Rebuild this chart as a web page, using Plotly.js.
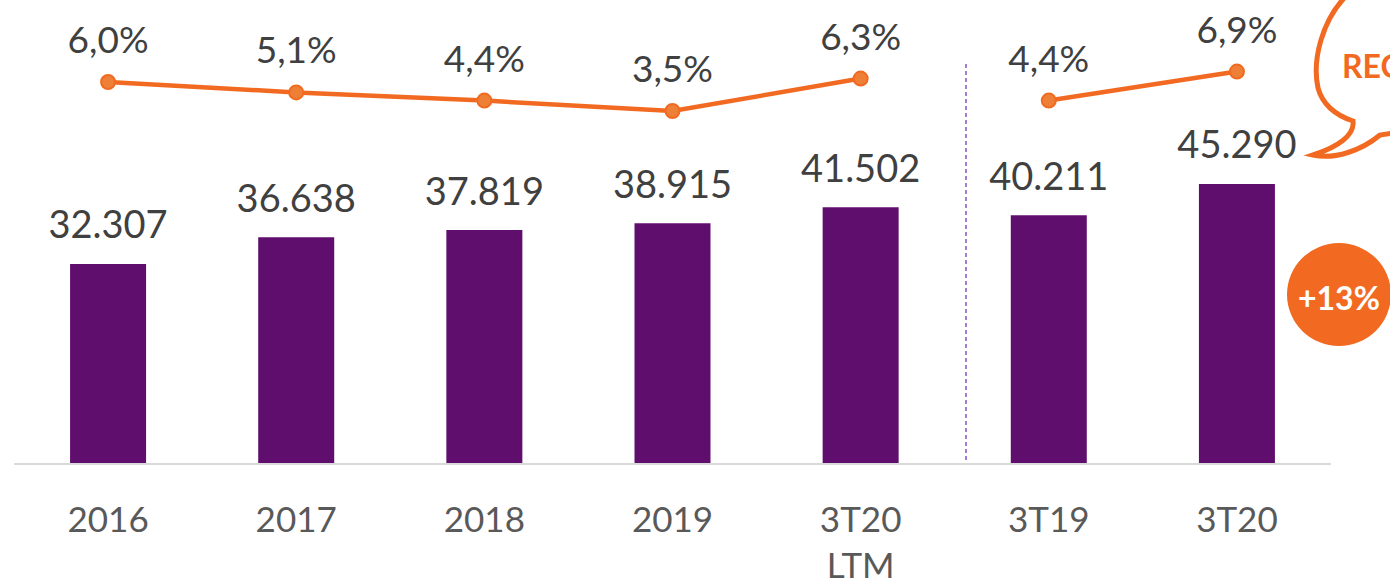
<!DOCTYPE html>
<html>
<head>
<meta charset="utf-8">
<script src="https://cdn.plot.ly/plotly-3.0.1.min.js"></script>
<style>html,body{margin:0;padding:0;background:#fff;}#chart{width:1390px;height:588px;}</style>
</head>
<body>
<div id="chart"></div>
<script>
// ---- data ----
const categories = ["2016", "2017", "2018", "2019", "3T20<br>LTM", "3T19", "3T20"];
const revenue = [32307, 36638, 37819, 38915, 41502, 40211, 45290];
const marginPct = [6.0, 5.1, 4.4, 3.5, 6.3, 4.4, 6.9];
const annualCount = 5; // first 5 categories form the annual series, last 2 the quarter comparison
const growthLabel = "+13%";
const bubbleLabel = "REC";

// ---- styling ----
const PURPLE = "#600E6E";
const ORANGE = "#F26A21";
const FONT = "Lato, 'Open Sans', sans-serif";

// helpers to place decorative shapes in paper coordinates
const W = 1390, H = 588, ML = 14, MR = 59, MT = 0, MB = 125;
const PW = W - ML - MR, PH = H - MT - MB;
const px = x => (x - ML) / PW;
const py = y => (H - MB - y) / PH;

const lineA = {
  x: categories.slice(0, annualCount), y: marginPct.slice(0, annualCount),
  type: "scatter", mode: "lines+markers", yaxis: "y2",
  line: {color: ORANGE, width: 4.5},
  marker: {size: 14, color: "#EE7F37", line: {color: ORANGE, width: 2}},
  hoverinfo: "skip", cliponaxis: false
};
const lineB = Object.assign({}, lineA, {
  x: categories.slice(annualCount), y: marginPct.slice(annualCount)
});
const lineText = {
  x: categories, y: marginPct, type: "scatter", mode: "markers+text", yaxis: "y2",
  marker: {size: 30, color: "rgba(0,0,0,0)"},
  texttemplate: "%{y:.1f}%", textposition: "top center",
  textfont: {family: FONT, size: 37, color: "#404040"},
  hoverinfo: "skip", cliponaxis: false
};
const bars = {
  x: categories, y: revenue, type: "bar",
  marker: {color: PURPLE},
  hoverinfo: "skip"
};
const barText = {
  x: categories, y: revenue, type: "scatter", mode: "markers+text",
  marker: {size: 24, color: "rgba(0,0,0,0)"},
  texttemplate: "%{y:,}", textposition: "top center",
  textfont: {family: FONT, size: 38, color: "#404040"},
  hoverinfo: "skip", cliponaxis: false
};

// speech bubble outline (pixel coordinates converted to paper)
const P = (x, y) => px(x).toFixed(5) + "," + py(y).toFixed(5);
const bubblePath = "M " + P(1347, -5) +
  " C " + P(1322, 20) + " " + P(1312, 60) + " " + P(1318, 88) +
  " C " + P(1323, 106) + " " + P(1338, 116) + " " + P(1353, 121) +
  " C " + P(1355, 135) + " " + P(1338, 147) + " " + P(1313, 155) +
  " C " + P(1335, 160) + " " + P(1362, 150) + " " + P(1380, 135) +
  " L " + P(1400, 132);

const layout = {
  width: W, height: H,
  margin: {l: ML, r: MR, t: MT, b: MB, pad: 0},
  paper_bgcolor: "#fff", plot_bgcolor: "#fff",
  separators: ",.",
  showlegend: false,
  bargap: 0.596,
  font: {family: FONT, color: "#595959"},
  xaxis: {
    type: "category", showgrid: false, zeroline: false,
    showline: true, linecolor: "#D9D9D9", linewidth: 2,
    ticks: "", tickfont: {family: FONT, size: 35, color: "#595959"},
    ticklabelstandoff: 25, fixedrange: true
  },
  yaxis: {range: [0, 75150], visible: false, fixedrange: true},
  yaxis2: {range: [-26.84, 13.07], overlaying: "y", visible: false, fixedrange: true},
  shapes: [
    {type: "line", xref: "paper", yref: "paper", x0: px(966), x1: px(966), y0: py(64), y1: py(462),
     line: {color: "#A57BD3", width: 2, dash: "4px,3px"}},
    {type: "path", xref: "paper", yref: "paper", path: bubblePath,
     line: {color: ORANGE, width: 5}, fillcolor: "rgba(0,0,0,0)"},
    {type: "circle", xref: "paper", yref: "paper", x0: px(1287), x1: px(1391), y0: py(346), y1: py(243),
     fillcolor: ORANGE, line: {width: 0}}
  ],
  annotations: [
    {xref: "paper", yref: "paper", x: px(1339), y: py(297), xanchor: "center", yanchor: "middle",
     text: "<b>" + growthLabel + "</b>",
     showarrow: false, font: {family: FONT, size: 32, color: "#fff"}},
    {xref: "paper", yref: "paper", x: px(1340), y: py(66), xanchor: "left", yanchor: "middle",
     text: "<b>" + bubbleLabel + "</b>",
     showarrow: false, font: {family: FONT, size: 32, color: ORANGE}}
  ]
};

Plotly.newPlot("chart", [bars, barText, lineA, lineB, lineText], layout, {displayModeBar: false, staticPlot: true});
</script>
</body>
</html>
